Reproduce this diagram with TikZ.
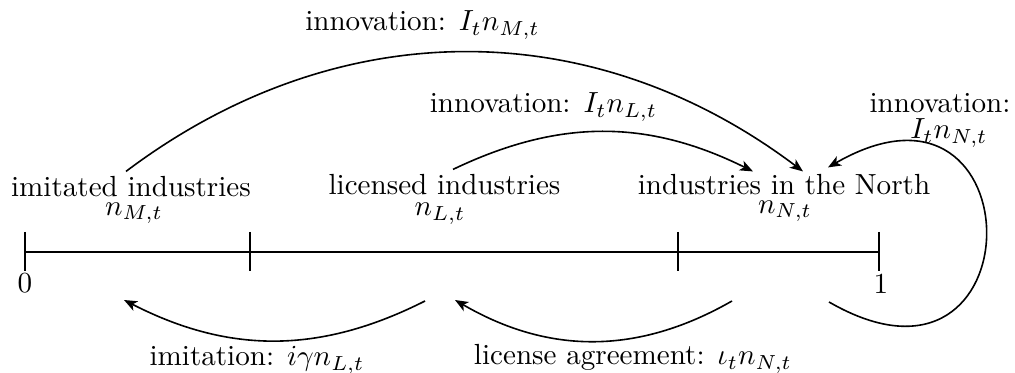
\documentclass[tikz,border=0pt]{standalone}
\usetikzlibrary{arrows.meta,calc}
\begin{document}
\begin{tikzpicture}[x=0.3436pt,y=-0.3436pt,
  lbl/.style={anchor=base,inner sep=0pt},
  flow/.style={line width=0.55pt,-{Stealth[length=4.5pt,width=3.6pt,inset=1.2pt]}},
  axisline/.style={line width=0.55pt}]
\useasboundingbox (0,0) rectangle (1015,373);

% unit interval with its partition
\coordinate (a0) at (25,252);
\coordinate (a1) at (879,252);
\draw[axisline] (a0) -- (a1);
\foreach \x in {25,250,678,879}{
  \draw[axisline] (\x,232) -- (\x,271);
}
\node[lbl] (zero) at (25,293) {0};
\node[lbl] (one) at (881,294) {1};

% the three groups of industries
\node[lbl] (imit) at (131,196.7) {imitated industries};
\node[lbl] (lic) at (444.5,195) {licensed industries};
\node[lbl] (north) at (784,195) {industries in the North};
\node[lbl] (nM) at (134,215.5) {$n_{M,t}$};
\node[lbl] (nL) at (440,216) {$n_{L,t}$};
\node[lbl] (nN) at (785,213.5) {$n_{N,t}$};

% flow labels
\node[lbl] (innM) at (422.5,31) {innovation: $I_tn_{M,t}$};
\node[lbl] (innL) at (543.5,113) {innovation: $I_tn_{L,t}$};
\node[lbl] (innN) at (940,113) {innovation:};
\node[lbl] (innNv) at (949,139) {$I_tn_{N,t}$};
\node[lbl] (imitLbl) at (257,366) {imitation: $i\gamma n_{L,t}$};
\node[lbl] (licLbl) at (633,365) {license agreement: $\iota_tn_{N,t}$};

% innovation flows into the North
\draw[flow] ($(imit.north)+(-5,-4.5)$) to[bend left=37] ($(north.north)+(19,-2.8)$);
\draw[flow] ($(lic.north)+(8.5,-4.8)$) to[bend left=26] ($(north.north)+(-31,-2.8)$);
\coordinate (loopSrc) at (829,302);
\draw[flow] (loopSrc) .. controls (1038.6,423) and (1037.6,47) .. ($(north.north)+(44,-6.8)$);

% imitation and licensing flows
\coordinate (imitSrc) at (425,301);
\coordinate (imitDst) at (124,300);
\coordinate (licSrc) at (732,301);
\coordinate (licDst) at (455,300);
\draw[flow] (imitSrc) to[bend left=27] (imitDst);
\draw[flow] (licSrc) to[bend left=30] (licDst);
\end{tikzpicture}
\end{document}
